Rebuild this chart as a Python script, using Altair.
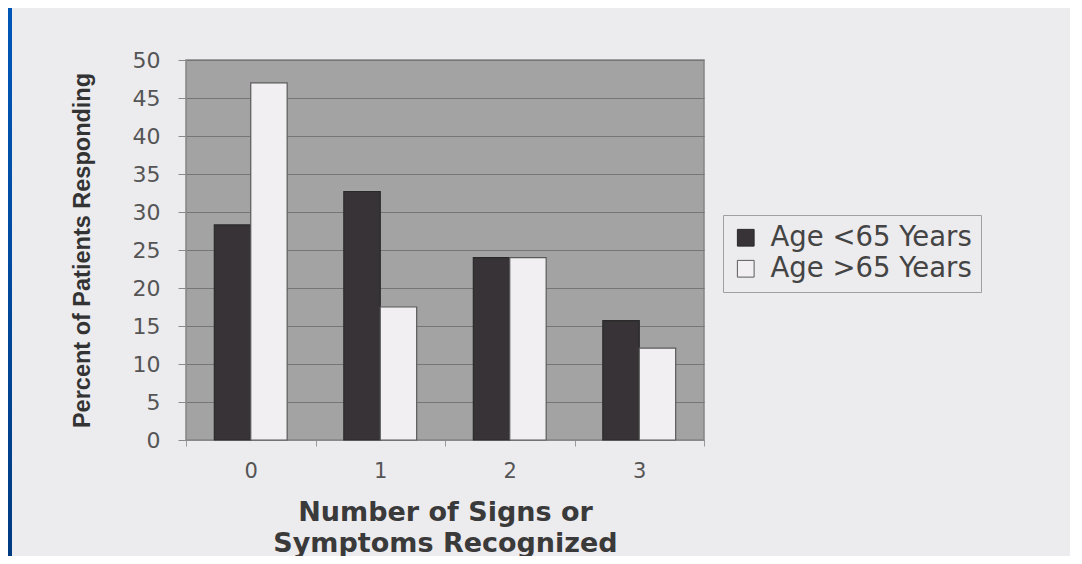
import altair as alt
import pandas as pd

categories = ["0", "1", "2", "3"]
series = ["Age <65 Years", "Age >65 Years"]
under65 = [28.3, 32.7, 24.0, 15.7]
over65 = [47.0, 17.5, 24.0, 12.1]
y_ticks = list(range(0, 51, 5))

rows = []
for c, a, b in zip(categories, under65, over65):
    rows.append({"signs": c, "group": series[0], "percent": a})
    rows.append({"signs": c, "group": series[1], "percent": b})
df = pd.DataFrame(rows)

W, H = 518, 380
L, T = 178, 52
TOTAL_W, TOTAL_H = 1062, 548

blue = alt.Gradient(
    gradient="linear",
    stops=[alt.GradientStop(color="#0057b8", offset=0),
           alt.GradientStop(color="#003b82", offset=1)],
    x1=0, x2=0, y1=0, y2=1,
)

strip = alt.Chart(pd.DataFrame({"k": [0]})).mark_rect(color=blue).encode(
    x=alt.value(-L), x2=alt.value(-L + 4),
    y=alt.value(-T), y2=alt.value(TOTAL_H - T),
)

bars = alt.Chart(df).mark_bar(strokeWidth=1.2).encode(
    x=alt.X("signs:N", sort=categories,
            scale=alt.Scale(paddingInner=0, paddingOuter=0),
            axis=alt.Axis(title=["Number of Signs or", "Symptoms Recognized"],
                          labelAngle=0, tickBand="extent", tickSize=6,
                          tickColor="#9a9a9a", domainColor="#8a8a8a",
                          labelFont="DejaVu Sans", labelFontSize=21,
                          labelColor="#555555", labelPadding=14,
                          titleFont="DejaVu Sans", titleFontSize=27,
                          titleFontWeight="bold", titleColor="#3a3a3a",
                          titleLineHeight=31, titlePadding=18, grid=False)),
    xOffset=alt.XOffset("group:N", sort=series,
                        scale=alt.Scale(paddingInner=0, paddingOuter=0.778)),
    y=alt.Y("percent:Q", scale=alt.Scale(domain=[0, 50], nice=False),
            axis=alt.Axis(values=y_ticks, title="Percent of Patients Responding",
                          grid=True, gridColor="#767676", gridWidth=1,
                          domain=False, tickSize=8, tickColor="#8a8a8a",
                          labelFont="DejaVu Sans", labelFontSize=22,
                          labelColor="#555555", labelPadding=18,
                          titleFont="Liberation Sans", titleFontSize=23.5,
                          titleFontWeight="bold", titleColor="#333333",
                          titlePadding=38)),
    color=alt.Color("group:N", sort=series,
                    scale=alt.Scale(domain=series, range=["#373336", "#f1eff1"]),
                    legend=alt.Legend(title=None, orient="none",
                                      legendX=537, legendY=155,
                                      symbolType="square", symbolSize=280,
                                      symbolStrokeColor="#4a4a4a",
                                      symbolStrokeWidth=1,
                                      labelFont="DejaVu Sans", labelFontSize=27.5,
                                      labelColor="#444444", labelLimit=400,
                                      strokeColor="#a0a0a0", padding=9,
                                      rowPadding=2, labelOffset=11)),
    stroke=alt.Stroke("group:N", sort=series,
                      scale=alt.Scale(domain=series, range=["#2a2a2a", "#5a5a5a"]),
                      legend=None),
)

chart = alt.layer(strip, bars).properties(
    width=W, height=H,
    autosize=alt.AutoSizeParams(type="none"),
    padding={"left": L, "top": T, "right": TOTAL_W - L - W, "bottom": TOTAL_H - T - H},
    background="#ecebee",
).configure_view(fill="#a3a3a3", stroke="#858585", strokeWidth=1.5)

chart.save("out.html", embed_options={"renderer": "svg", "actions": False})
